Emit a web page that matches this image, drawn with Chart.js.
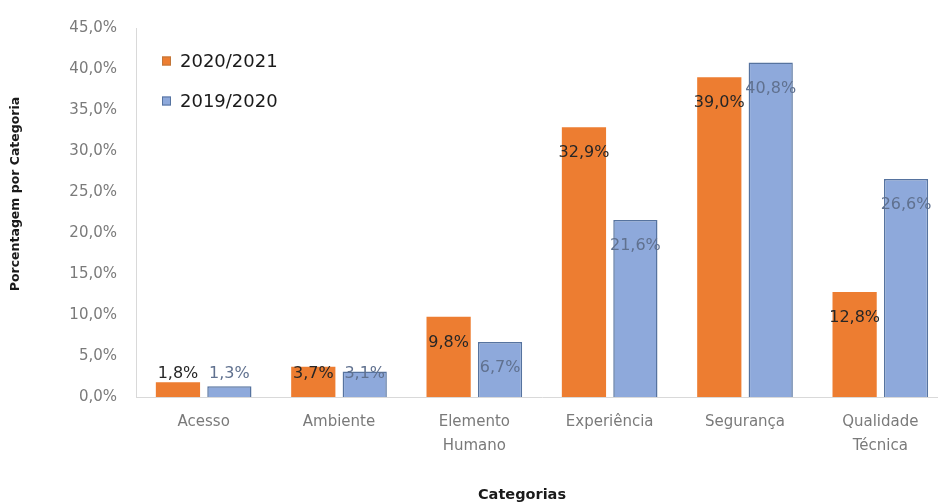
<!DOCTYPE html>
<html>
<head>
<meta charset="utf-8">
<script src="https://cdn.jsdelivr.net/npm/chart.js@4/dist/chart.umd.min.js"></script>
<style>
  html, body { margin: 0; padding: 0; background: #fff; overflow: hidden; width: 938px; height: 503px; }
  canvas { display: block; }
</style>
</head>
<body>
<canvas id="c" width="948" height="503"></canvas>
<script>
const categories = ['Acesso', 'Ambiente', ['Elemento', 'Humano'], 'Experiência', 'Segurança', ['Qualidade', 'Técnica']];
const series2021 = [1.8, 3.7, 9.8, 32.9, 39.0, 12.8];
const series2020 = [1.3, 3.1, 6.7, 21.6, 40.8, 26.6];
const seriesNames = ['2020/2021', '2019/2020'];
const yTickLabels = ['0,0%', '5,0%', '10,0%', '15,0%', '20,0%', '25,0%', '30,0%', '35,0%', '40,0%', '45,0%'];
const yTitle = 'Porcentagem por Categoria';
const xTitle = 'Categorias';

const ORANGE = '#ED7D31';
const BLUE = '#8EA9DB';
const BLUE_BORDER = '#56739f';

const fmt = v => v.toFixed(1).replace('.', ',') + '%';

const extrasPlugin = {
  id: 'extras',
  afterDatasetsDraw(chart) {
    const ctx = chart.ctx;
    const yScale = chart.scales.y;
    const yZero = yScale.getPixelForValue(0);
    // data labels
    chart.data.datasets.forEach((ds, di) => {
      const meta = chart.getDatasetMeta(di);
      meta.data.forEach((el, i) => {
        const y = Math.min(el.y + 26, yZero - 23);
        ctx.save();
        ctx.font = '16px "DejaVu Sans"';
        ctx.fillStyle = di === 0 ? '#262626' : '#60718f';
        ctx.textAlign = 'center';
        ctx.textBaseline = 'middle';
        ctx.fillText(fmt(ds.data[i]), el.x, y);
        ctx.restore();
      });
    });
    // legend inside plot
    const items = [
      { text: seriesNames[0], fill: ORANGE, stroke: '#c0763a', y: 61 },
      { text: seriesNames[1], fill: BLUE, stroke: BLUE_BORDER, y: 101 }
    ];
    items.forEach(it => {
      ctx.save();
      ctx.fillStyle = it.fill;
      ctx.fillRect(162, it.y - 4.5, 9, 9);
      ctx.strokeStyle = it.stroke;
      ctx.lineWidth = 1;
      ctx.strokeRect(162.5, it.y - 4, 8, 8);
      ctx.font = '18px "DejaVu Sans"';
      ctx.fillStyle = '#1a1a1a';
      ctx.textAlign = 'left';
      ctx.textBaseline = 'middle';
      ctx.fillText(it.text, 180, it.y + 1);
      ctx.restore();
    });
    // axis titles
    ctx.save();
    ctx.font = 'bold 14.5px "DejaVu Sans"';
    ctx.fillStyle = '#1a1a1a';
    ctx.textAlign = 'center';
    ctx.textBaseline = 'middle';
    ctx.fillText(xTitle, 522, 495);
    ctx.translate(16, 194);
    ctx.rotate(-Math.PI / 2);
    ctx.font = 'bold 12.5px "DejaVu Sans"';
    ctx.fillText(yTitle, 0, 0);
    ctx.restore();
  }
};

new Chart(document.getElementById('c'), {
  type: 'bar',
  data: {
    labels: categories,
    datasets: [
      {
        label: seriesNames[0],
        data: series2021,
        backgroundColor: ORANGE,
        borderWidth: 0,
        categoryPercentage: 0.76,
        barPercentage: 0.86
      },
      {
        label: seriesNames[1],
        data: series2020,
        backgroundColor: BLUE,
        borderColor: BLUE_BORDER,
        borderWidth: 1.5,
        categoryPercentage: 0.76,
        barPercentage: 0.86
      }
    ]
  },
  options: {
    responsive: false,
    devicePixelRatio: 1,
    animation: false,
    layout: { padding: { top: 28, right: 0, bottom: 0, left: 0 } },
    plugins: {
      legend: { display: false },
      tooltip: { enabled: false },
      title: { display: false }
    },
    scales: {
      x: {
        grid: { display: false, drawTicks: false },
        border: { display: true, color: '#d9d9d9', width: 1 },
        ticks: {
          color: '#7a7a7a',
          font: { family: 'DejaVu Sans', size: 15, lineHeight: 1.6 },
          padding: 13,
          maxRotation: 0,
          autoSkip: false
        },
        afterFit(scale) { scale.height = 106; }
      },
      y: {
        min: 0,
        max: 45,
        grid: { display: false, drawTicks: false },
        border: { display: true, color: '#d9d9d9', width: 1 },
        ticks: {
          stepSize: 5,
          color: '#7a7a7a',
          font: { family: 'DejaVu Sans', size: 15 },
          padding: 19,
          callback: (v, i) => yTickLabels[i]
        },
        afterFit(scale) { scale.width = 136; }
      }
    }
  },
  plugins: [extrasPlugin]
});
</script>
</body>
</html>
